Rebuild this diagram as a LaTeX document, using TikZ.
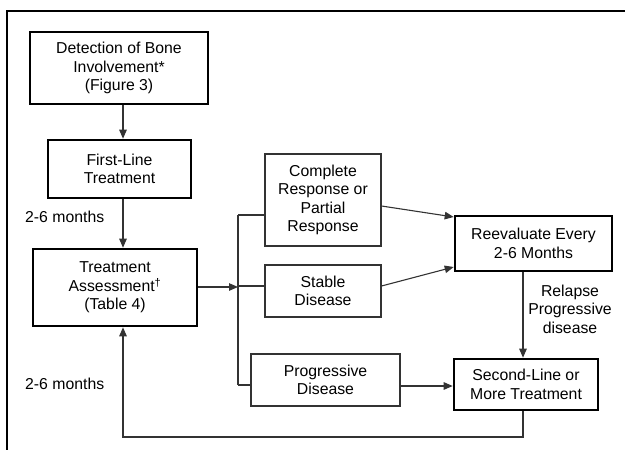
\documentclass[tikz,border=0pt]{standalone}
\usepackage{fontspec}
\setmainfont{Liberation Sans}
\usetikzlibrary{arrows.meta}
\begin{document}
\begin{tikzpicture}[x=1pt, y=-1pt,
  every node/.style={font=\fontsize{15.8}{18.6}\selectfont, align=center, inner sep=0pt},
  thickbox/.style={draw, line width=2.6pt, minimum width=#1},
  thinbox/.style={draw=black!80, line width=1.1pt, minimum width=#1},
  link/.style={draw=black!80, line width=1.1pt},
  tip/.style={-{Triangle[length=9pt, width=7.5pt]}}]
  \useasboundingbox (0,0) rectangle (625,450);
  \draw[line width=1.8pt] (625,11) -- (7,11) -- (7,450);
  \coordinate (spine) at (123,0);
  \coordinate (br) at (238,287);
  \coordinate (loop) at (0,437);
  \node[thickbox=178pt, minimum height=72pt] (detect) at (119,68) {Detection of Bone\\Involvement*\\(Figure 3)};
  \node[thickbox=143pt, minimum height=58pt] (first) at (119.5,169) {First-Line\\Treatment};
  \node[thickbox=164pt, minimum height=77pt] (assess) at (115,287.5) {Treatment\\Assessment\textsuperscript{\textdagger}\\(Table 4)};
  \node[thinbox=116pt, minimum height=92pt] (cr) at (323,200) {Complete\\Response or\\Partial\\Response};
  \node[thinbox=116pt, minimum height=52pt] (sd) at (323,291) {Stable\\Disease};
  \node[thinbox=149pt, minimum height=52pt] (pd) at (325.5,380) {Progressive\\Disease};
  \node[thickbox=157pt, minimum height=55pt] (reeval) at (533.5,243.5) {Reevaluate Every\\2-6 Months};
  \node[thickbox=144pt, minimum height=51pt] (second) at (526,384.5) {Second-Line or\\More Treatment};
  \node[anchor=west] (wait1) at (25,217) {2-6 months};
  \node[anchor=west] (wait2) at (25,384) {2-6 months};
  \node (relapse) at (570,309) {Relapse\\Progressive\\disease};
  \draw[link, tip] (detect.south -| spine) -- (first.north -| spine);
  \draw[link, tip] (first.south -| spine) -- (assess.north -| spine);
  \draw[link, tip] (assess.east |- br) -- (br);
  \draw[link] (br |- 0,215) -- (br |- 0,385);
  \draw[link] (br |- 0,215) -- (cr.west |- 0,215);
  \draw[link] (br |- 0,286) -- (sd.west |- 0,286);
  \draw[link] (br |- 0,385) -- (pd.west |- 0,385);
  \draw[link, tip] ([yshift=-6pt]cr.east) -- ([yshift=26.5pt]reeval.west);
  \draw[link, tip] ([yshift=5pt]sd.east) -- ([yshift=-23.5pt]reeval.west);
  \draw[link, tip] ([yshift=-6pt]pd.east) -- (second.west |- 0,386);
  \draw[link, tip] (reeval.south -| 523,0) -- (second.north -| 523,0);
  \draw[link, tip] (second.south -| 523,0) -- (523,0 |- loop) -- (spine |- loop) -- (assess.south -| spine);
\end{tikzpicture}
\end{document}
